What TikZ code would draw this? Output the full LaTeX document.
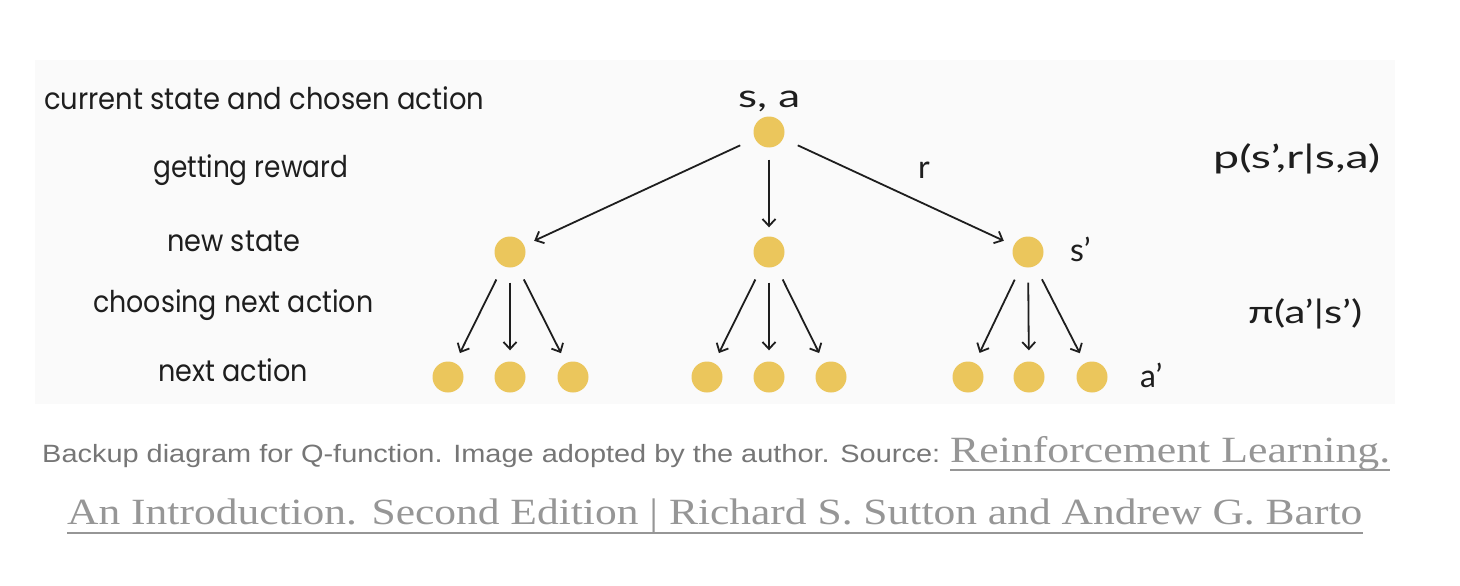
\documentclass[tikz,border=0pt]{standalone}
\usepackage{fontspec}
\usepackage{graphicx}
\usetikzlibrary{arrows.meta}
\newfontfamily\handfont{Poppins}
\newfontfamily\mathfont{Lato}
\newfontfamily\capsansfont{Liberation Sans}
\newfontfamily\capseriffont{Liberation Serif}
\definecolor{dotc}{RGB}{235,198,92}
\definecolor{bgc}{RGB}{250,250,250}
\definecolor{capgray}{RGB}{118,118,118}
\definecolor{linkgray}{RGB}{150,150,150}
\definecolor{ink}{RGB}{30,30,30}
\newcommand{\fitw}[2]{\resizebox{#1}{\height}{#2}}
\begin{document}
\begin{tikzpicture}[x=1pt,y=-1pt,
  dotnode/.style={circle, fill=dotc, minimum size=31pt, inner sep=0pt},
  arr/.style={draw=ink, line width=1.8pt, -{Straight Barb[length=7pt,width=13pt]}, shorten <=14pt, shorten >=10pt},
  subarr/.style={arr, shorten <=15pt, shorten >=11pt},
  handtxt/.style={anchor=base west, inner sep=0pt, text=ink, font=\handfont\fontsize{30}{36}\selectfont},
  mathtxt/.style={anchor=base west, inner sep=0pt, text=ink, font=\mathfont\fontsize{32}{38}\selectfont},
  captxt/.style={anchor=base west, inner sep=0pt, text=capgray, font=\capsansfont\fontsize{25}{30}\selectfont},
  linktxt/.style={anchor=base west, inner sep=0pt, text=linkgray, font=\capseriffont\fontsize{37}{44}\selectfont},
  ul/.style={draw=linkgray, line width=2.6pt}
]
\useasboundingbox (0,0) rectangle (1460,586);
\fill[bgc] (35,60) rectangle (1395,404);

% nodes
\node[dotnode] (root) at (769,132) {};
\node[dotnode] (m1) at (510,252) {};
\node[dotnode] (m2) at (769,252) {};
\node[dotnode] (m3) at (1028,252) {};
\node[dotnode] (a11) at (448,377) {};
\node[dotnode] (a12) at (510,377) {};
\node[dotnode] (a13) at (573,377) {};
\node[dotnode] (a21) at (707,377) {};
\node[dotnode] (a22) at (769,377) {};
\node[dotnode] (a23) at (831,377) {};
\node[dotnode] (a31) at (968,377) {};
\node[dotnode] (a32) at (1029,377) {};
\node[dotnode] (a33) at (1092,377) {};

% arrows
\draw[arr, shorten <=16pt, shorten >=11pt] (root) -- (m1);
\draw[arr, shorten <=12pt, shorten >=9pt] (root) -- (m2);
\draw[arr, shorten <=16pt, shorten >=11pt] (root) -- (m3);
\draw[subarr] (m1) -- (a11);
\draw[subarr] (m1) -- (a12);
\draw[subarr] (m1) -- (a13);
\draw[subarr] (m2) -- (a21);
\draw[subarr] (m2) -- (a22);
\draw[subarr] (m2) -- (a23);
\draw[subarr] (m3) -- (a31);
\draw[subarr] (m3) -- (a32);
\draw[subarr] (m3) -- (a33);

% diagram labels
\node[mathtxt] (sa) at (738,107) {\fitw{62pt}{s, a}};
\node[mathtxt] (rl) at (918,178) {r};
\node[mathtxt] (sp) at (1070,261) {s’};
\node[mathtxt] (ap) at (1140,387) {a’};
\node[mathtxt] (pfun) at (1213,168) {\fitw{167pt}{p(s’,r|s,a)}};
\node[mathtxt] (pifun) at (1248,323) {\fitw{114pt}{π(a’|s’)}};

% left labels
\node[handtxt] (l1) at (44,109) {\fitw{440pt}{current state and chosen action}};
\node[handtxt] (l2) at (153,177) {\fitw{195pt}{getting reward}};
\node[handtxt] (l3) at (167,251) {\fitw{133pt}{new state}};
\node[handtxt] (l4) at (93,312) {\fitw{280pt}{choosing next action}};
\node[handtxt] (l5) at (158,381) {\fitw{150pt}{next action}};

% caption
\node[captxt] (c1) at (42,462) {\fitw{898pt}{Backup diagram for Q-function. Image adopted by the author. Source:}};
\node[linktxt] (c2) at (950,462) {\fitw{440pt}{Reinforcement Learning.}};
\node[linktxt] (c3) at (67,524) {\fitw{1295pt}{An Introduction. Second Edition | Richard S. Sutton and Andrew G. Barto}};
\draw[ul] ([yshift=-8pt]c2.base west) -- ([yshift=-8pt]c2.base east);
\draw[ul] ([yshift=-9pt]c3.base west) -- ([yshift=-9pt]c3.base east);
\end{tikzpicture}
\end{document}
